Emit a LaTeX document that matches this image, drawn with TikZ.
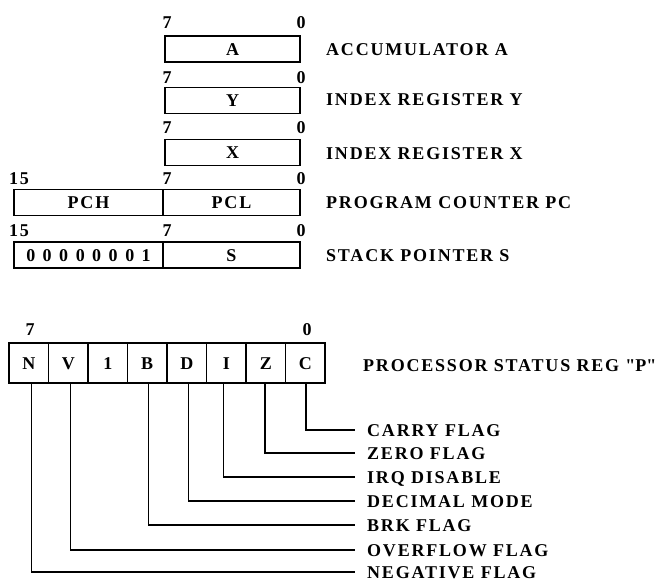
\documentclass[tikz,border=0pt]{standalone}
\usepackage{fontspec}
\setmainfont{Liberation Serif}[LetterSpace=10]
\font\qqfont="Liberation Serif/B" at 18pt
\begin{document}
\begin{tikzpicture}[x=1pt,y=-1pt,
  every node/.style={font=\fontsize{18}{20}\selectfont\bfseries, text height=12pt, text depth=0pt, inner sep=0pt},
  regbox/.style={draw, line width=1.5pt, minimum height=26pt},
  cell/.style={draw, line width=1.5pt, minimum width=39.5pt, minimum height=40pt},
  bitnum/.style={},
  reglabel/.style={anchor=west},
  flaglabel/.style={anchor=west, inner xsep=12pt},
  wire/.style={line width=1.3pt}]
\useasboundingbox (0,0) rectangle (669,581);
% accumulator
\node[regbox, minimum width=135pt] (A) at (232.5,49) {A};
\node[bitnum] (A7) at (167,22) {7};
\node[bitnum] (A0) at (301,22) {0};
\node[reglabel] (lA) at (326,49) {ACCUMULATOR A};
% Y
\node[regbox, minimum width=135pt] (Y) at (232.5,100.5) {Y};
\node[bitnum] (Y7) at (167,77) {7};
\node[bitnum] (Y0) at (301,77) {0};
\node[reglabel] (lY) at (326,99) {INDEX REGISTER Y};
% X
\node[regbox, minimum width=135pt] (X) at (232.5,152.5) {X};
\node[bitnum] (X7) at (167,127) {7};
\node[bitnum] (X0) at (301,127) {0};
\node[reglabel] (lX) at (326,153) {INDEX REGISTER X};
% PC
\node[regbox, minimum width=149pt] (PCH) at (88.5,202.5) {PCH};
\node[regbox, minimum width=137pt] (PCL) at (231.5,202.5) {PCL};
\node[bitnum] (P15) at (19,178) {15};
\node[bitnum] (P7) at (167,178) {7};
\node[bitnum] (P0) at (301,178) {0};
\node[reglabel] (lPC) at (326,202) {PROGRAM COUNTER PC};
% S
\node[regbox, minimum width=149pt] (SH) at (88.5,255) {0\hskip7.5pt 0\hskip7.5pt 0\hskip7.5pt 0\hskip7.5pt 0\hskip7.5pt 0\hskip7.5pt 0\hskip7.5pt 1};
\node[regbox, minimum width=137pt] (S) at (231.5,255) {S};
\node[bitnum] (S15) at (19,230) {15};
\node[bitnum] (S7) at (167,230) {7};
\node[bitnum] (S0) at (301,230) {0};
\node[reglabel] (lS) at (326,255) {STACK POINTER S};
% status register
\foreach \l [count=\i from 0] in {N,V,1,B,D,I,Z,C}
  \node[cell] (c\i) at (28.75+39.5*\i,363) {\l};
\node[bitnum] (P7b) at (30,329) {7};
\node[bitnum] (P0b) at (307,329) {0};
\node[reglabel] (lP) at (363,365) {PROCESSOR STATUS REG {\qqfont"}P{\qqfont"}};
% flag labels
\node[flaglabel] (fC) at (355,430) {CARRY FLAG};
\node[flaglabel] (fZ) at (355,453) {ZERO FLAG};
\node[flaglabel] (fI) at (355,477) {IRQ DISABLE};
\node[flaglabel] (fD) at (355,501) {DECIMAL MODE};
\node[flaglabel] (fB) at (355,525) {BRK FLAG};
\node[flaglabel] (fV) at (355,550) {OVERFLOW FLAG};
\node[flaglabel] (fN) at (355,572) {NEGATIVE FLAG};
% wires
\draw[wire] ([xshift=0.75pt]c7.south) |- (fC.west);
\draw[wire] ([xshift=-0.75pt]c6.south) |- (fZ.west);
\draw[wire] ([xshift=-3pt]c5.south) |- (fI.west);
\draw[wire] ([xshift=2pt]c4.south) |- (fD.west);
\draw[wire] ([xshift=1pt]c3.south) |- (fB.west);
\draw[wire] ([xshift=2pt]c1.south) |- (fV.west);
\draw[wire] ([xshift=3pt]c0.south) |- (fN.west);
\end{tikzpicture}
\end{document}
